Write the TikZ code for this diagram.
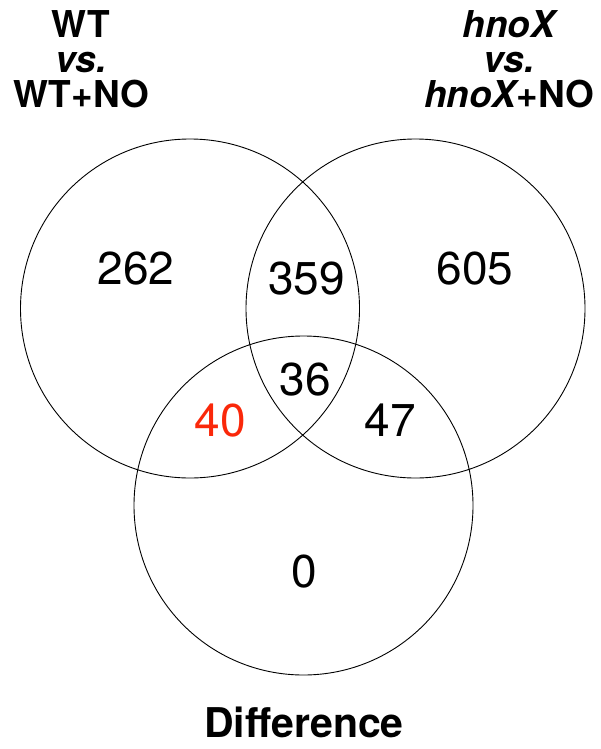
\documentclass[tikz,border=0pt]{standalone}
\usepackage{fontspec}
\setmainfont{TeX Gyre Heros}
\definecolor{numred}{RGB}{250,40,10}
\tikzset{
  venn/.style={draw=black, line width=0.9pt},
  title/.style={inner sep=0pt, anchor=base, font=\fontsize{37}{37}\selectfont\bfseries},
  num/.style={inner sep=0pt, anchor=base, font=\fontsize{46}{46}\selectfont},
}
\begin{document}
\begin{tikzpicture}[x=1pt,y=-1pt]
\useasboundingbox (0,0) rectangle (600,749);
% circles
\draw[venn] (190,308.5) circle (169.5);
\draw[venn] (415.5,308.5) circle (169.5);
\draw[venn] (303.5,505.5) circle (169.5);
% titles
\node[title] (l1) at (81,37.7) {WT};
\node[title] (l2) at (81,72.7) {\itshape vs.};
\node[title] (l3) at (81,107.7) {WT+NO};
\node[title] (r1) at (509,37.7) {\itshape hnoX};
\node[title] (r2) at (509,72.7) {\itshape vs.};
\node[title] (r3) at (509,107.7) {{\itshape hnoX}+NO};
\node[title, font=\fontsize{41}{41}\selectfont\bfseries] (diff) at (304,737) {Difference};
% numbers
\node[num] (n262) at (136,284) {262};
\node[num] (n359) at (306.7,294.3) {359};
\node[num] (n605) at (475,284) {605};
\node[num] (n36) at (305,395) {36};
\node[num, text=numred] (n40) at (220.5,436) {40};
\node[num] (n47) at (390,436) {47};
\node[num] (n0) at (304,587.3) {0};
\end{tikzpicture}
\end{document}
